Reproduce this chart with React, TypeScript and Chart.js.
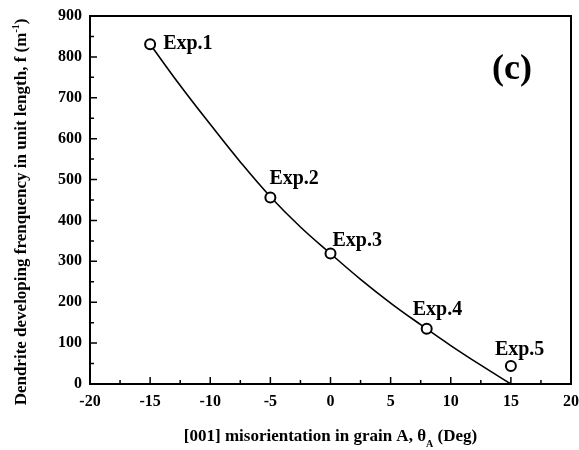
import React, { useEffect, useRef } from "react";
import { Chart, registerables } from "chart.js";

Chart.register(...registerables);

// Experimental points
const expLabels = ["Exp.1", "Exp.2", "Exp.3", "Exp.4", "Exp.5"];
const expX = [-15, -5, 0, 8, 15];
const expY = [831, 456, 319, 135, 44];

// Fitted curve
const curveX = [-15, -12.5, -10, -7.5, -5, -2.5, 0, 2.5, 5, 7.5, 10, 12.5, 15];
const curveY = [831, 730, 635, 543, 458, 384, 319, 256, 198, 145, 94, 46, 0];

const xTicks = [-20, -15, -10, -5, 0, 5, 10, 15, 20];
const yTicks = [0, 100, 200, 300, 400, 500, 600, 700, 800, 900];

// label offsets from marker centre (px): layout only
const labelOffsets = [
  [13, 5],
  [-1, -14],
  [2, -8],
  [-14, -14],
  [-16, -11],
];

const SERIF = '"Liberation Serif", "Times New Roman", serif';

export default function App() {
  const ref = useRef<HTMLCanvasElement | null>(null);

  useEffect(() => {
    document.body.style.margin = "0";
    const canvas = ref.current!;
    const decor = {
      id: "decor",
      afterDraw(chart: any) {
        const ctx = chart.ctx;
        const { left, right, top, bottom } = chart.chartArea;
        const xs = chart.scales.x;
        const ys = chart.scales.y;
        ctx.save();
        ctx.strokeStyle = "#000";
        ctx.lineWidth = 2;
        ctx.strokeRect(left, top, right - left, bottom - top);
        // ticks inward
        ctx.lineWidth = 1.5;
        ctx.beginPath();
        for (let v = -20; v <= 20; v += 2.5) {
          const px = xs.getPixelForValue(v);
          const major = v % 5 === 0;
          const len = major ? 7 : 4;
          ctx.moveTo(px, bottom);
          ctx.lineTo(px, bottom - len);
        }
        for (let v = 0; v <= 900; v += 50) {
          const py = ys.getPixelForValue(v);
          const major = v % 100 === 0;
          const len = major ? 7 : 4;
          ctx.moveTo(left, py);
          ctx.lineTo(left + len, py);
        }
        ctx.stroke();

        // Exp labels
        ctx.fillStyle = "#000";
        ctx.font = `bold 20px ${SERIF}`;
        ctx.textAlign = "left";
        ctx.textBaseline = "alphabetic";
        expLabels.forEach((t, i) => {
          const px = xs.getPixelForValue(expX[i]);
          const py = ys.getPixelForValue(expY[i]);
          ctx.fillText(t, px + labelOffsets[i][0], py + labelOffsets[i][1]);
        });

        // (c)
        ctx.font = `bold 36px ${SERIF}`;
        ctx.textAlign = "center";
        ctx.textBaseline = "middle";
        ctx.fillText("(c)", 512, 70);

        // x title with subscript
        const cx = (left + right) / 2;
        const ty = 437;
        ctx.textBaseline = "middle";
        ctx.textAlign = "left";
        const p1 = "[001] misorientation in grain A, \u03b8";
        const p3 = " (Deg)";
        ctx.font = `bold 17px ${SERIF}`;
        const w1 = ctx.measureText(p1).width;
        const w3 = ctx.measureText(p3).width;
        ctx.font = `bold 10px ${SERIF}`;
        const w2 = ctx.measureText("A").width;
        const total = w1 + w2 + w3;
        const x0 = cx - total / 2;
        ctx.font = `bold 17px ${SERIF}`;
        ctx.fillText(p1, x0, ty);
        ctx.font = `bold 10px ${SERIF}`;
        ctx.fillText("A", x0 + w1, ty + 7);
        ctx.font = `bold 17px ${SERIF}`;
        ctx.fillText(p3, x0 + w1 + w2, ty);

        // y title with superscript
        ctx.translate(22, 212);
        ctx.rotate(-Math.PI / 2);
        const q1 = "Dendrite developing frenquency in unit length, f (m";
        const q3 = ")";
        ctx.font = `bold 17px ${SERIF}`;
        const u1 = ctx.measureText(q1).width;
        const u3 = ctx.measureText(q3).width;
        ctx.font = `bold 10px ${SERIF}`;
        const u2 = ctx.measureText("-1").width;
        const tot2 = u1 + u2 + u3;
        const y0 = -tot2 / 2;
        ctx.font = `bold 17px ${SERIF}`;
        ctx.fillText(q1, y0, 0);
        ctx.font = `bold 10px ${SERIF}`;
        ctx.fillText("-1", y0 + u1, -6);
        ctx.font = `bold 17px ${SERIF}`;
        ctx.fillText(q3, y0 + u1 + u2, 0);
        ctx.restore();
      },
    };

    const chart = new Chart(canvas, {
      type: "scatter",
      data: {
        datasets: [
          {
            type: "line",
            label: "fit",
            data: curveX.map((x, i) => ({ x, y: curveY[i] })),
            borderColor: "#000",
            borderWidth: 1.6,
            pointRadius: 0,
            tension: 0.4,
            fill: false,
            order: 2,
          },
          {
            label: "exp",
            data: expX.map((x, i) => ({ x, y: expY[i] })),
            pointRadius: 5,
            pointBorderWidth: 2,
            pointBorderColor: "#000",
            pointBackgroundColor: "#fff",
            order: 1,
          },
        ],
      } as any,
      options: {
        animation: false,
        responsive: false,
        maintainAspectRatio: false,
        layout: { padding: { top: 16, right: 8, left: 0, bottom: 0 } },
        plugins: { legend: { display: false }, tooltip: { enabled: false } },
        scales: {
          x: {
            type: "linear",
            min: -20,
            max: 20,
            grid: { display: false, drawTicks: false },
            border: { display: false },
            afterBuildTicks: (s: any) => {
              s.ticks = xTicks.map((v) => ({ value: v }));
            },
            afterFit: (s: any) => {
              s.height = 66;
              s.paddingLeft = 0;
              s.paddingRight = 0;
            },
            ticks: {
              color: "#000",
              padding: 8,
              maxRotation: 0,
              font: { family: SERIF, size: 16, weight: "bold" },
            },
          },
          y: {
            type: "linear",
            min: 0,
            max: 900,
            grid: { display: false, drawTicks: false },
            border: { display: false },
            afterBuildTicks: (s: any) => {
              s.ticks = yTicks.map((v) => ({ value: v }));
            },
            afterFit: (s: any) => {
              s.width = 90;
              s.paddingTop = 0;
              s.paddingBottom = 0;
            },
            ticks: {
              color: "#000",
              padding: 8,
              font: { family: SERIF, size: 16, weight: "bold" },
            },
          },
        },
      } as any,
      plugins: [decor],
    });
    return () => chart.destroy();
  }, []);

  return (
    <div style={{ width: 579, height: 450 }}>
      <canvas ref={ref} width={579} height={450} style={{ width: 579, height: 450 }} />
    </div>
  );
}
